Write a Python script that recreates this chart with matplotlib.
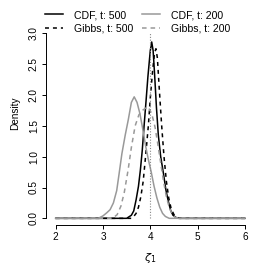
import matplotlib
matplotlib.use('Agg')
import matplotlib.pyplot as plt

plt.rcParams['font.family'] = ['Liberation Sans', 'DejaVu Sans']
plt.rcParams['mathtext.fontset'] = 'dejavusans'

# density curves (zeta_1 grid, density)
x_cdf500 = [2.0, 3.5, 3.6, 3.65, 3.7, 3.75, 3.79, 3.83, 3.87, 3.91, 3.95, 4.0, 4.03,
            4.06, 4.09, 4.13, 4.17, 4.22, 4.28, 4.33, 4.38, 4.43, 4.48, 4.55, 4.6, 6.0]
y_cdf500 = [0.0, 0.0, 0.05, 0.12, 0.3, 0.52, 0.78, 1.1, 1.51, 1.9, 2.3, 2.72, 2.86,
            2.72, 2.35, 1.8, 1.35, 1.0, 0.72, 0.46, 0.28, 0.13, 0.05, 0.01, 0.0, 0.0]

x_gibbs500 = [2.0, 3.6, 3.65, 3.7, 3.75, 3.8, 3.85, 3.9, 3.96, 4.0, 4.05, 4.09, 4.12,
              4.15, 4.19, 4.24, 4.29, 4.34, 4.39, 4.44, 4.5, 4.55, 4.62, 6.0]
y_gibbs500 = [0.0, 0.0, 0.03, 0.08, 0.18, 0.35, 0.6, 1.0, 1.51, 1.95, 2.4, 2.68, 2.75,
              2.6, 2.1, 1.51, 1.0, 0.6, 0.33, 0.16, 0.06, 0.02, 0.0, 0.0]

x_cdf200 = [2.0, 2.9, 3.0, 3.08, 3.15, 3.22, 3.29, 3.34, 3.4, 3.47, 3.535, 3.6, 3.66,
            3.72, 3.78, 3.84, 3.9, 3.96, 4.02, 4.08, 4.14, 4.2, 4.26, 4.32, 4.4, 6.0]
y_cdf200 = [0.0, 0.0, 0.04, 0.09, 0.14, 0.25, 0.45, 0.72, 1.05, 1.35, 1.6, 1.88, 1.97,
            1.88, 1.7, 1.45, 1.18, 0.95, 0.75, 0.52, 0.33, 0.18, 0.08, 0.03, 0.0, 0.0]

x_gibbs200 = [2.0, 3.2, 3.3, 3.38, 3.45, 3.53, 3.6, 3.68, 3.76, 3.85, 3.95, 4.03, 4.1,
              4.16, 4.22, 4.28, 4.34, 4.4, 4.46, 4.52, 4.6, 6.0]
y_gibbs200 = [0.0, 0.0, 0.06, 0.2, 0.42, 0.78, 1.15, 1.5, 1.68, 1.76, 1.81, 1.7, 1.48,
              1.2, 0.9, 0.6, 0.35, 0.18, 0.07, 0.02, 0.0, 0.0]

true_value = 4.0
x_ticks = [2, 3, 4, 5, 6]
y_ticks = [0.0, 0.5, 1.0, 1.5, 2.0, 2.5, 3.0]

black = 'black'
grey = '#999999'
fs = 7.2

fig = plt.figure(figsize=(2.66, 2.66), dpi=100)
ax = fig.add_axes([46 / 266, 41.5 / 266, 209 / 266, 222 / 266])

ax.plot(x_cdf500, y_cdf500, color=black, lw=1.1, label='CDF, t: 500')
ax.plot(x_gibbs500, y_gibbs500, color=black, lw=1.1, dashes=(2.6, 2.6),
        label='Gibbs, t: 500')
ax.plot(x_cdf200, y_cdf200, color=grey, lw=1.1, label='CDF, t: 200')
ax.plot(x_gibbs200, y_gibbs200, color=grey, lw=1.1, dashes=(3.0, 2.6),
        label='Gibbs, t: 200')
ax.vlines(true_value, 0, 3.0, color='#888888', lw=0.8, linestyles=(0, (1, 1.5)))

ax.set_xlim(1.795, 6.214)
ax.set_ylim(-0.1, 3.5)

for s in ['top', 'right']:
    ax.spines[s].set_visible(False)
ax.spines['left'].set_bounds(0, 3)
ax.spines['bottom'].set_bounds(2, 6)
for s in ['left', 'bottom']:
    ax.spines[s].set_linewidth(0.7)

ax.set_xticks(x_ticks)
ax.set_yticks(y_ticks)
ax.set_yticklabels(['%.1f' % v for v in y_ticks], rotation=90, va='center')
ax.tick_params(length=2.6, width=0.7, labelsize=fs, pad=2.5)

ax.set_ylabel('Density', fontsize=fs, labelpad=6)
ax.set_xlabel(r'$\zeta_1$', fontsize=8, labelpad=7)

fig.legend(ncol=2, loc='upper left', bbox_to_anchor=(45 / 266, 1 - 10 / 266),
           frameon=False, fontsize=7.6, handlelength=1.7, handletextpad=1.0,
           columnspacing=0.9, labelspacing=0.35, borderpad=0.0, borderaxespad=0.0)

fig.savefig('out.png', dpi=100)
